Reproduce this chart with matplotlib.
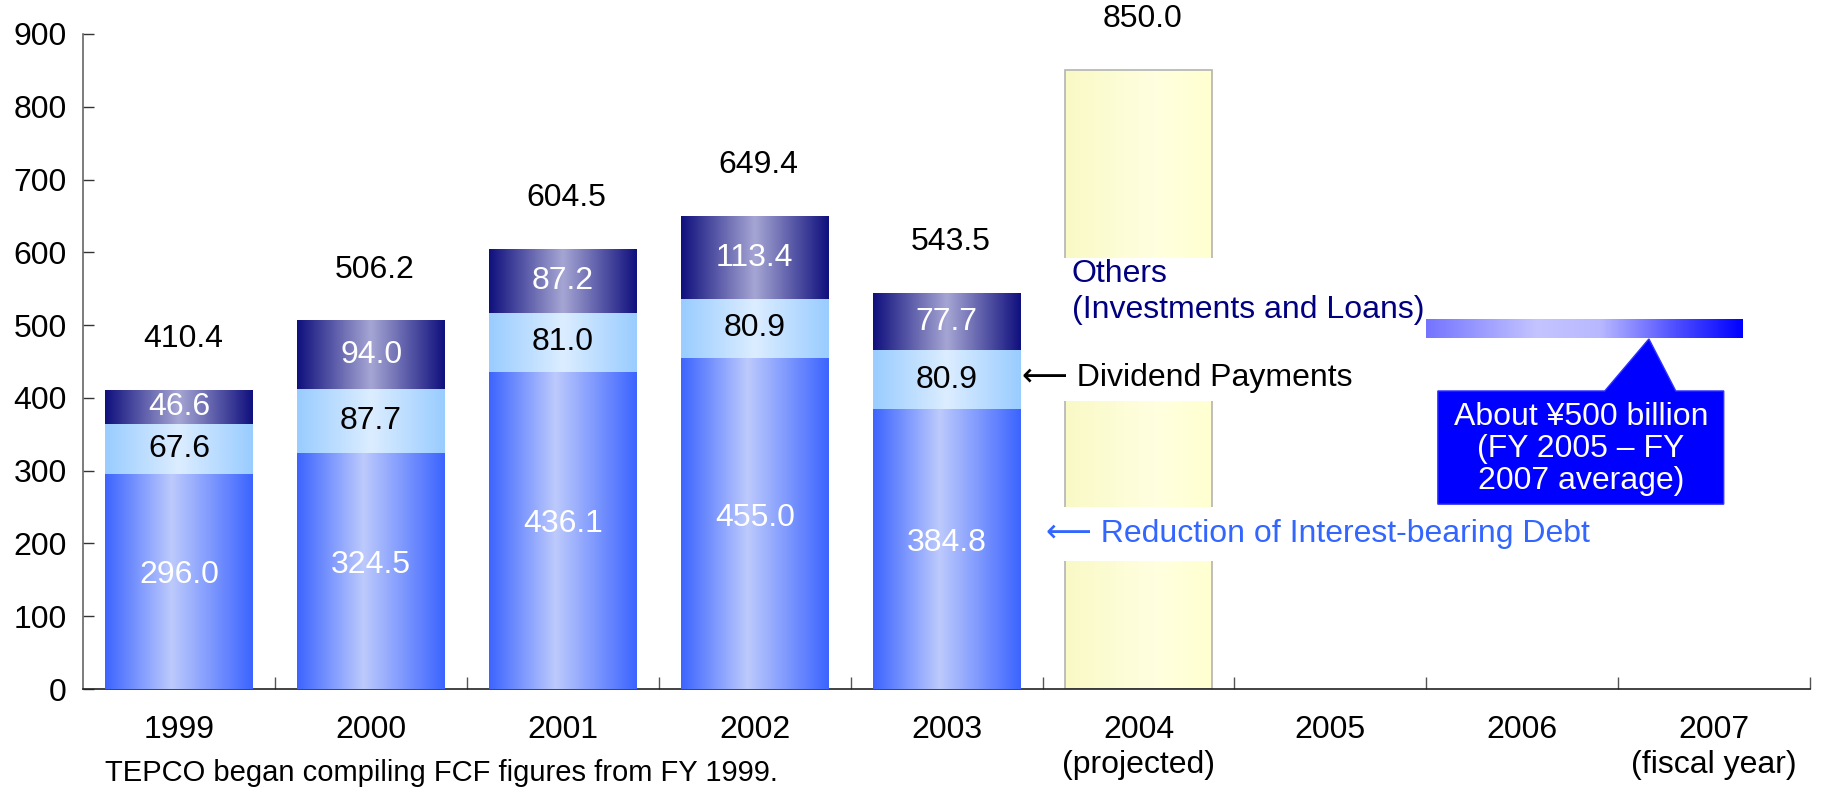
"""TEPCO free cash flow usage chart, recreated with matplotlib."""

import matplotlib

matplotlib.use("Agg")
import matplotlib.pyplot as plt
import numpy as np
from matplotlib.colors import LinearSegmentedColormap
from matplotlib.patches import Polygon, Rectangle

plt.rcParams["font.family"] = ["Liberation Sans", "DejaVu Sans"]

# --- data (billion yen) ---
years = ["1999", "2000", "2001", "2002", "2003", "2004", "2005", "2006", "2007"]
debt = [296.0, 324.5, 436.1, 455.0, 384.8]
dividends = [67.6, 87.7, 81.0, 80.9, 80.9]
others = [46.6, 94.0, 87.2, 113.4, 77.7]
totals = [410.4, 506.2, 604.5, 649.4, 543.5]
projected_2004 = 850.0
avg_2005_2007 = 495.0

# horizontal gradients (position, colour)
DEBT_STOPS = [(0.0, "#3c64ff"), (0.45, "#bdcafc"), (1.0, "#3c64ff")]
DIV_STOPS = [(0.0, "#99ccff"), (0.5, "#dcedff"), (1.0, "#99ccff")]
OTHER_STOPS = [(0.0, "#10107e"), (0.5, "#a6a6d4"), (1.0, "#10107e")]
YELLOW_STOPS = [(0.0, "#f9f9c6"), (0.6, "#ffffe0"), (1.0, "#ffffd0")]
AVG_STOPS = [(0.0, "#7474ff"), (0.35, "#c4c4ff"), (0.55, "#b8b8ff"),
             (0.8, "#4a4aff"), (1.0, "#0000ff")]

FS = 23
BAR_W = 0.77


def grad_rect(ax, x0, x1, y0, y1, stops, zorder=2):
    cmap = LinearSegmentedColormap.from_list("g", stops)
    ax.imshow(np.linspace(0, 1, 256)[None, :], cmap=cmap,
              extent=[x0, x1, y0, y1], aspect="auto",
              interpolation="bilinear", zorder=zorder)


fig = plt.figure(figsize=(18.23, 7.88), dpi=100)
ax = fig.add_axes([0.0457, 0.1256, 0.9472, 0.8313])

# stacked actual bars
for i, (d, v, o, t) in enumerate(zip(debt, dividends, others, totals)):
    x0, x1 = i - BAR_W / 2, i + BAR_W / 2
    grad_rect(ax, x0, x1, 0, d, DEBT_STOPS, zorder=3)
    grad_rect(ax, x0, x1, d, d + v, DIV_STOPS, zorder=3)
    grad_rect(ax, x0, x1, d + v, d + v + o, OTHER_STOPS, zorder=3)
    ax.text(i, d / 2 + 8, f"{d:.1f}", color="white", ha="center", va="center",
            fontsize=FS, zorder=4)
    ax.text(i, d + v / 2, f"{v:.1f}", color="black", ha="center", va="center",
            fontsize=FS, zorder=4)
    ax.text(i, d + v + o / 2, f"{o:.1f}", color="white", ha="center",
            va="center", fontsize=FS, zorder=4)
    ax.text(i + 0.02, t + 70, f"{t:.1f}", color="black", ha="center",
            va="center", fontsize=FS, zorder=4, clip_on=False)

# projected 2004 bar
px = years.index("2004")
grad_rect(ax, px - BAR_W / 2, px + BAR_W / 2, 0, projected_2004, YELLOW_STOPS,
          zorder=1)
ax.add_patch(Rectangle((px - BAR_W / 2, 0), BAR_W, projected_2004, fill=False,
                       ec="#b4b4b4", lw=1.2, zorder=1.2))
ax.text(px + 0.02, projected_2004 + 70, f"{projected_2004:.1f}", ha="center",
        va="center", fontsize=FS, clip_on=False)

# white backings where the legend texts cross the projected bar
for lo, hi in [(395.7, 592.2), (175.9, 250.0)]:
    ax.add_patch(Rectangle((px - BAR_W / 2 - 0.02, lo), BAR_W + 0.04, hi - lo,
                           fc="white", ec="none", zorder=1.5))

ax.text(4.652, 545, "Others\n(Investments and Loans)", color="#000080",
        ha="left", va="center", fontsize=FS, linespacing=1.25, zorder=2)
ax.text(4.395, dividends[4] / 2 + debt[4] + 2, "\u27f5 Dividend Payments",
        color="black", ha="left", va="center", fontsize=FS, zorder=2)
ax.text(4.52, 213, "\u27f5 Reduction of Interest-bearing Debt",
        color="#3366ff", ha="left", va="center", fontsize=FS, zorder=2)

# FY2005-2007 average band and callout
grad_rect(ax, 6.5, 8.15, avg_2005_2007 - 13, avg_2005_2007 + 12, AVG_STOPS,
          zorder=2)
bx0, bx1, by0, by1 = 6.56, 8.05, 254, 409.5
callout = Polygon([(bx0, by0), (bx1, by0), (bx1, by1), (7.80, by1),
                   (7.66, avg_2005_2007 - 14), (7.43, by1), (bx0, by1)],
                  closed=True, fc="#0000ff", ec="#3030ff", lw=1, zorder=2)
ax.add_patch(callout)
ax.text((bx0 + bx1) / 2, (by0 + by1) / 2 - 2,
        "About \u00a5500 billion\n(FY 2005 \u2013 FY\n2007 average)",
        color="white", ha="center", va="center", fontsize=FS,
        linespacing=1.1, zorder=3)

# axes styling
ax.set_xlim(-0.5, 8.5)
ax.set_ylim(0, 900)
ax.set_yticks(range(0, 901, 100))
ax.tick_params(axis="y", direction="in", length=8, width=1, color="#333333",
               pad=12, labelsize=FS)
labels = years.copy()
labels[px] = "2004\n(projected)"
labels[-1] = "2007\n(fiscal year)"
ax.set_xticks(range(len(years)), labels)
ax.set_xticks(np.arange(0.5, len(years), 1.0), minor=True)
ax.tick_params(axis="x", which="major", length=0, pad=19, labelsize=FS)
ax.tick_params(axis="x", which="minor", direction="in", length=9, width=1,
               color="#555555")
for lbl in ax.get_xticklabels():
    lbl.set_linespacing(1.2)
    lbl.set_verticalalignment("top")
for side in ("top", "right"):
    ax.spines[side].set_visible(False)
ax.spines["left"].set_color("#666666")
ax.spines["bottom"].set_color("#222222")
ax.spines["left"].set_linewidth(1.2)
ax.spines["bottom"].set_linewidth(1.2)

fig.text(105 / 1823, 1 - 773 / 788, "TEPCO began compiling FCF figures from FY 1999.",
         ha="left", va="center", fontsize=21)

fig.savefig("out.png", dpi=100)
